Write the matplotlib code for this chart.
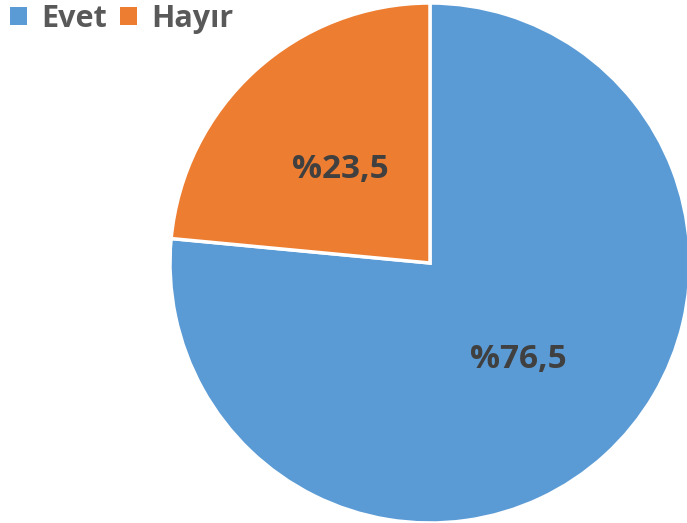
import matplotlib.pyplot as plt
from matplotlib.patches import Patch

labels = ['Evet', 'Hayır']
values = [76.5, 23.5]
colors = ['#5B9BD5', '#ED7D31']

W, H = 687, 523
fig = plt.figure(figsize=(W / 100, H / 100), dpi=100)
cx, cy, r = 430, 263, 260
ax = fig.add_axes([(cx - r) / W, (H - cy - r) / H, 2 * r / W, 2 * r / H])

wedges, _ = ax.pie(values, colors=colors, startangle=90, counterclock=False,
                   radius=1, wedgeprops=dict(edgecolor='white', linewidth=2.5))
ax.set_xlim(-1, 1)
ax.set_ylim(-1, 1)
ax.set_aspect('equal')
ax.axis('off')

# label positions (relative to radius)
pos = [(88 / r, -97 / r), (-90 / r, 93 / r)]
for v, (x, y) in zip(values, pos):
    txt = '%' + f'{v:.1f}'.replace('.', ',')
    ax.text(x, y, txt, ha='center', va='center', fontsize=24, fontweight='bold',
            color='#404040', family='Open Sans')

handles = [Patch(facecolor=c, edgecolor='none') for c in colors]
leg = fig.legend(handles, labels, loc='upper left', bbox_to_anchor=(-0.025, 1.045),
                 ncol=2, frameon=False, handlelength=0.55, handleheight=0.55,
                 handletextpad=0.45, columnspacing=0.45,
                 prop=dict(family='Open Sans', weight='bold', size=22))
for t in leg.get_texts():
    t.set_color('#595959')

fig.savefig('out.png', dpi=100)
